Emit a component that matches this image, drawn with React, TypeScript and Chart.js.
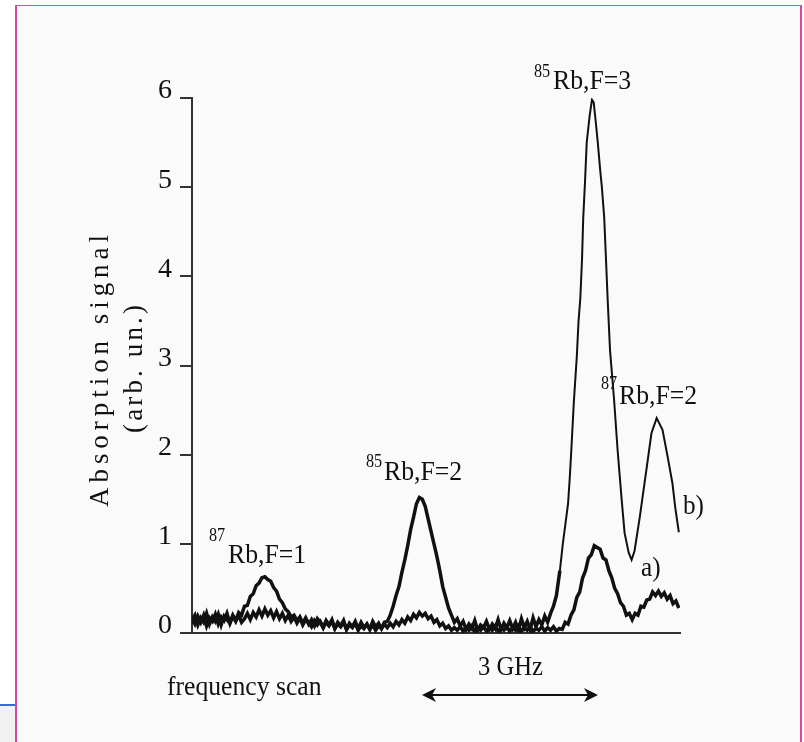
import React, { useEffect, useRef } from "react";
import { Chart, registerables } from "chart.js";

Chart.register(...registerables);

// ---- data (frequency in GHz from start of scan, absorption in arb. units) ----
const freqB = [
  0, 0.05, 0.1, 0.15, 0.2, 0.25, 0.3, 0.35, 0.4, 0.45, 0.5, 0.55, 0.6, 0.65, 0.7,
  0.75, 0.8, 0.85, 0.9, 0.95, 1.0, 1.05, 1.1, 1.15, 1.2, 1.25, 1.3, 1.35, 1.4, 1.45, 1.5, 1.55, 1.6, 1.65, 1.7, 1.75, 1.8, 1.85,
  1.9, 1.95, 2.0, 2.05, 2.1, 2.15, 2.2, 2.25, 2.3, 2.35, 2.4, 2.45, 2.5, 2.55, 2.6, 2.65, 2.7, 2.75, 2.8, 2.85, 2.9, 2.95, 3.0, 3.05, 3.1, 3.15, 3.2, 3.25, 3.3,
  3.35, 3.4, 3.45, 3.5, 3.55, 3.6, 3.65, 3.7, 3.75, 3.8, 3.85, 3.9, 3.95, 4.0, 4.05, 4.1, 4.15, 4.2, 4.25, 4.3, 4.35, 4.4, 4.45, 4.5, 4.55, 4.6,
  4.65, 4.7, 4.75, 4.8, 4.85, 4.9, 4.95, 5.0, 5.05, 5.1, 5.15, 5.2, 5.25, 5.3, 5.35, 5.4, 5.45, 5.5, 5.55, 5.6, 5.65, 5.7, 5.75, 5.8, 5.85, 5.9, 5.95, 6.0, 6.05, 6.1, 6.15, 6.2,
  6.25, 6.31, 6.36, 6.41, 6.45, 6.48, 6.51, 6.55, 6.6, 6.63, 6.66, 6.69, 6.71, 6.74, 6.77, 6.82, 6.86, 6.89, 6.93, 6.96, 7.0, 7.03, 7.07, 7.1, 7.13, 7.17, 7.24, 7.3, 7.37, 7.42, 7.49, 7.54, 7.59, 7.68, 7.8, 7.88, 7.97, 8.07, 8.16, 8.24, 8.29, 8.35,
];
const signalB = [
  0.14, 0.2, 0.09, 0.17, 0.12, 0.22, 0.1, 0.18, 0.13, 0.21, 0.09, 0.19, 0.15, 0.11, 0.2,
  0.14, 0.23, 0.2, 0.3, 0.31, 0.41, 0.44, 0.53, 0.56, 0.62, 0.63, 0.6, 0.58, 0.51, 0.47, 0.38, 0.34, 0.27, 0.24, 0.18, 0.2, 0.14, 0.18,
  0.11, 0.17, 0.1, 0.15, 0.08, 0.16, 0.12, 0.06, 0.14, 0.09, 0.15, 0.05, 0.12, 0.08, 0.14, 0.04, 0.11, 0.07, 0.13, 0.05, 0.12, 0.06, 0.1, 0.04, 0.13, 0.07, 0.11, 0.05, 0.12,
  0.13, 0.2, 0.3, 0.42, 0.52, 0.68, 0.82, 0.98, 1.16, 1.3, 1.45, 1.52, 1.5, 1.42, 1.28, 1.14, 1.0, 0.86, 0.7, 0.52, 0.4, 0.28, 0.2, 0.12, 0.16, 0.08,
  0.13, 0.04, 0.1, 0.05, 0.14, 0.03, 0.09, 0.06, 0.13, 0.04, 0.1, 0.05, 0.15, 0.04, 0.11, 0.06, 0.14, 0.05, 0.12, 0.03, 0.16, 0.06, 0.13, 0.04, 0.17, 0.07, 0.15, 0.09, 0.19, 0.12, 0.22, 0.3,
  0.42, 0.7, 1.0, 1.25, 1.45, 1.75, 2.1, 2.6, 3.1, 3.5, 3.75, 4.2, 4.65, 5.05, 5.5, 5.8, 5.98, 5.95, 5.7, 5.5, 5.2, 5.0, 4.66, 4.2, 3.73, 3.17, 2.61, 2.05, 1.49, 1.12, 0.9, 0.82, 0.92, 1.3, 1.86, 2.24, 2.41, 2.28, 1.97, 1.68, 1.4, 1.13,
];

const freqA = [
  0, 0.05, 0.1, 0.15, 0.2, 0.25, 0.3, 0.35, 0.4, 0.45, 0.5, 0.55, 0.6, 0.65, 0.7, 0.75, 0.8, 0.85,
  0.9, 0.95, 1.0, 1.05, 1.1, 1.15, 1.2, 1.25, 1.3, 1.35, 1.4, 1.45, 1.5, 1.55, 1.6, 1.65, 1.7,
  1.75, 1.8, 1.85, 1.9, 1.95, 2.0, 2.05, 2.1, 2.15, 2.2, 2.25, 2.3, 2.35, 2.4, 2.45, 2.5, 2.55, 2.6, 2.65, 2.7, 2.75, 2.8, 2.85, 2.9, 2.95, 3.0, 3.05, 3.1, 3.15, 3.2, 3.25, 3.3, 3.35,
  3.4, 3.45, 3.5, 3.55, 3.6, 3.65, 3.7, 3.75, 3.8, 3.85, 3.9, 3.95, 4.0, 4.05, 4.1, 4.15, 4.2, 4.25, 4.3, 4.35, 4.4, 4.45, 4.5,
  4.55, 4.6, 4.65, 4.7, 4.75, 4.8, 4.85, 4.9, 4.95, 5.0, 5.05, 5.1, 5.15, 5.2, 5.25, 5.3, 5.35, 5.4, 5.45, 5.5, 5.55, 5.6, 5.65, 5.7, 5.75, 5.8, 5.85, 5.9, 5.95, 6.0, 6.05, 6.1, 6.15, 6.2, 6.25, 6.3,
  6.35, 6.4, 6.45, 6.5, 6.55, 6.6, 6.65, 6.7, 6.75, 6.8, 6.85, 6.9, 6.95, 7.0, 7.05, 7.1, 7.15, 7.2, 7.25, 7.3, 7.35, 7.4, 7.45, 7.5, 7.55, 7.6, 7.65, 7.7, 7.75, 7.8, 7.85, 7.9, 7.95, 8.0, 8.05, 8.1, 8.15, 8.2, 8.25, 8.3, 8.35,
];
const signalA = [
  0.16, 0.1, 0.19, 0.12, 0.2, 0.08, 0.17, 0.13, 0.21, 0.1, 0.18, 0.14, 0.22, 0.11, 0.19, 0.13, 0.2, 0.12,
  0.16, 0.22, 0.15, 0.23, 0.18, 0.26, 0.19, 0.27, 0.2, 0.25, 0.17, 0.24, 0.16, 0.22, 0.14, 0.2, 0.13,
  0.18, 0.11, 0.17, 0.09, 0.15, 0.12, 0.07, 0.14, 0.09, 0.13, 0.06, 0.12, 0.08, 0.13, 0.05, 0.1, 0.07, 0.12, 0.04, 0.09, 0.06, 0.11, 0.03, 0.08, 0.05, 0.1, 0.04, 0.09, 0.03, 0.08, 0.05, 0.1, 0.06,
  0.11, 0.07, 0.13, 0.09, 0.15, 0.11, 0.18, 0.14, 0.21, 0.17, 0.23, 0.19, 0.22, 0.16, 0.19, 0.12, 0.15, 0.08, 0.11, 0.05, 0.08, 0.03, 0.06,
  0.03, 0.07, 0.02, 0.06, 0.03, 0.08, 0.02, 0.05, 0.03, 0.07, 0.02, 0.06, 0.03, 0.08, 0.02, 0.05, 0.03, 0.07, 0.02, 0.06, 0.03, 0.08, 0.02, 0.06, 0.03, 0.07, 0.02, 0.05, 0.03, 0.07, 0.02, 0.06, 0.03, 0.07, 0.02, 0.05,
  0.04, 0.12, 0.1, 0.2, 0.26, 0.4, 0.46, 0.62, 0.7, 0.84, 0.88, 0.98, 0.96, 0.94, 0.84, 0.82, 0.7, 0.62, 0.5, 0.44, 0.34, 0.3, 0.2, 0.22, 0.15, 0.22, 0.2, 0.3, 0.29, 0.37, 0.38, 0.46, 0.42, 0.47, 0.41, 0.45, 0.38, 0.42, 0.33, 0.36, 0.28,
];

const yTickValues = [0, 1, 2, 3, 4, 5, 6];
const peakIsotopes = ["87", "85", "85", "87"];
const peakLevels = ["Rb,F=1", "Rb,F=2", "Rb,F=3", "Rb,F=2"];
const traceNames = ["a)", "b)"];
const axisTitle = ["Absorption signal", "(arb. un.)"];
const scanLabel = "frequency scan";
const spanLabel = "3 GHz";

// ---- layout / style (pixels) ----
const W = 804;
const H = 742;
const FONT = '"Liberation Serif", "Times New Roman", serif';
const INK = "#111111";
const LABEL_POS = [
  { sx: 209, sy: 541, x: 228, y: 563 },
  { sx: 366, sy: 467, x: 384, y: 480 },
  { sx: 534, sy: 77, x: 553, y: 89 },
  { sx: 601, sy: 389, x: 619, y: 404 },
];

function drawText(ctx: CanvasRenderingContext2D, s: string, x: number, y: number, size: number, sx = 1) {
  ctx.save();
  ctx.translate(x, y);
  ctx.scale(sx, 1);
  ctx.font = `${size}px ${FONT}`;
  ctx.fillText(s, 0, 0);
  ctx.restore();
}

function drawSpaced(ctx: CanvasRenderingContext2D, s: string, cx: number, cy: number, size: number, target: number) {
  ctx.save();
  ctx.translate(cx, cy);
  ctx.rotate(-Math.PI / 2);
  ctx.font = `${size}px ${FONT}`;
  ctx.textBaseline = "middle";
  ctx.textAlign = "left";
  const widths = Array.from(s).map((c) => ctx.measureText(c).width);
  const base = widths.reduce((a, b) => a + b, 0);
  const gap = (target - base) / (s.length - 1);
  let x = -target / 2;
  Array.from(s).forEach((c, i) => {
    ctx.fillText(c, x, 0);
    x += widths[i] + gap;
  });
  ctx.restore();
}

const decorations = {
  id: "decorations",
  beforeDraw(chart: any) {
    const ctx: CanvasRenderingContext2D = chart.ctx;
    ctx.save();
    ctx.fillStyle = "#ffffff";
    ctx.fillRect(0, 0, W, H);
    ctx.fillStyle = "#f1f1f1";
    ctx.fillRect(0, 706, 15, H - 706);
    ctx.fillStyle = "#3f66d8";
    ctx.fillRect(0, 704, 15, 2);
    ctx.fillStyle = "#fafafa";
    ctx.fillRect(16, 6, W - 19, H - 6);
    ctx.fillStyle = "#cf4aa0";
    ctx.fillRect(15, 5, 2, H - 5);
    ctx.fillRect(800, 5, 2, H - 5);
    ctx.fillStyle = "#b0609a";
    ctx.fillRect(15, 5, 787, 1);
    ctx.restore();
  },
  afterDraw(chart: any) {
    const ctx: CanvasRenderingContext2D = chart.ctx;
    ctx.save();
    ctx.fillStyle = INK;
    ctx.textBaseline = "alphabetic";
    ctx.textAlign = "left";
    peakLevels.forEach((lv, i) => {
      const p = LABEL_POS[i];
      drawText(ctx, peakIsotopes[i], p.sx, p.sy, 18, 0.9);
      drawText(ctx, lv, p.x, p.y, 28, 0.92);
    });
    drawText(ctx, traceNames[1], 683, 514, 28, 0.9);
    drawText(ctx, traceNames[0], 641, 576, 28, 0.9);
    drawText(ctx, spanLabel, 478, 675, 28, 0.88);
    drawText(ctx, scanLabel, 167, 695, 27, 0.95);
    drawSpaced(ctx, axisTitle[0], 101, 371, 27, 272);
    drawSpaced(ctx, axisTitle[1], 135, 369, 27, 128);

    // 3 GHz arrow
    ctx.strokeStyle = INK;
    ctx.lineWidth = 2;
    ctx.beginPath();
    ctx.moveTo(430, 695);
    ctx.lineTo(590, 695);
    ctx.stroke();
    ctx.beginPath();
    ctx.moveTo(422, 695);
    ctx.lineTo(436, 688);
    ctx.lineTo(432, 695);
    ctx.lineTo(436, 702);
    ctx.closePath();
    ctx.fill();
    ctx.beginPath();
    ctx.moveTo(598, 695);
    ctx.lineTo(584, 688);
    ctx.lineTo(588, 695);
    ctx.lineTo(584, 702);
    ctx.closePath();
    ctx.fill();
    ctx.restore();
  },
};

export default function App() {
  const ref = useRef<HTMLCanvasElement | null>(null);
  useEffect(() => {
    if (!ref.current) return;
    const toPts = (xs: number[], ys: number[]) => xs.map((x, i) => ({ x, y: ys[i] }));
    const chart = new Chart(ref.current, {
      type: "line",
      data: {
        datasets: [
          {
            label: "b)",
            data: toPts(freqB, signalB),
            borderColor: "#111111",
            borderWidth: 3,
            pointRadius: 0,
            tension: 0,
            fill: false,
            borderJoinStyle: "miter",
            segment: {
              borderWidth: (c: any) => (c.p0.parsed.x < 6.3 ? 3.5 : 2),
            },
          },
          {
            label: "a)",
            data: toPts(freqA, signalA),
            borderColor: "#111111",
            borderWidth: 3.5,
            pointRadius: 0,
            tension: 0,
            fill: false,
            borderJoinStyle: "miter",
          },
        ],
      },
      options: {
        animation: false,
        responsive: false,
        events: [],
        layout: { padding: { left: 0, top: 98, right: 124, bottom: 109 } },
        plugins: { legend: { display: false }, tooltip: { enabled: false }, title: { display: false } },
        scales: {
          x: {
            type: "linear",
            min: 0,
            max: 8.37,
            grid: { drawOnChartArea: false, drawTicks: false, color: "rgba(0,0,0,0)" },
            ticks: { display: false },
            border: { display: true, color: "#333", width: 2 },
            afterFit: (s: any) => {
              s.height = 0;
            },
          },
          y: {
            type: "linear",
            min: 0,
            max: 6,
            afterBuildTicks: (s: any) => {
              s.ticks = yTickValues.map((v) => ({ value: v }));
            },
            grid: { drawOnChartArea: false, drawTicks: true, tickLength: 12, color: "#333", lineWidth: 2 },
            border: { display: true, color: "#333", width: 2 },
            ticks: {
              font: { family: FONT, size: 28 },
              color: INK,
              padding: 8,
              labelOffset: -7,
            },
            afterFit: (s: any) => {
              s.width = 192;
            },
          },
        },
      },
      plugins: [decorations],
    });
    return () => chart.destroy();
  }, []);
  return (
    <div style={{ position: "fixed", left: 0, top: 0, width: W, height: H }}>
      <canvas ref={ref} width={W} height={H} style={{ display: "block", width: W, height: H }} />
    </div>
  );
}
